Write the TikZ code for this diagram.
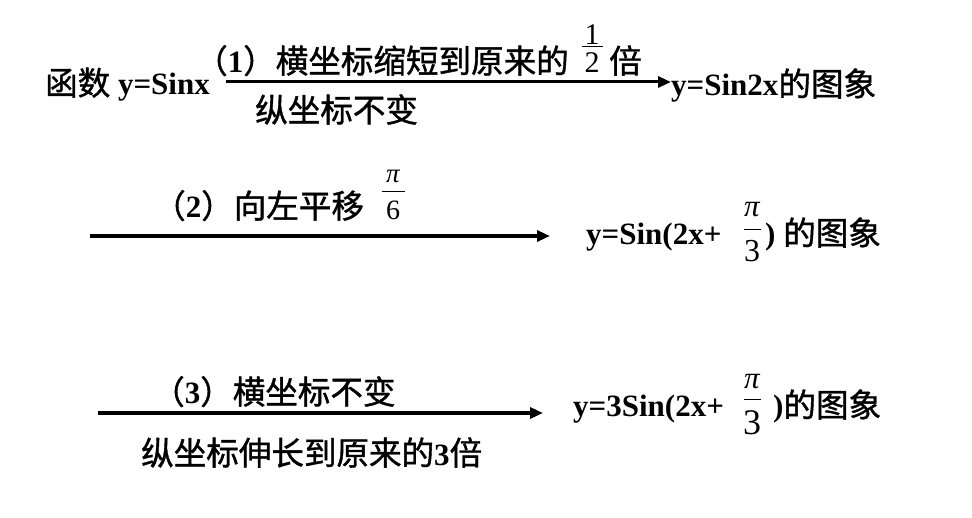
\documentclass[tikz,border=0pt]{standalone}
\usepackage{fontspec}
\setmainfont{Liberation Serif}
\newfontfamily\cjk[Scale=1.05,FakeBold=1.2]{Noto Sans CJK SC}
\usetikzlibrary{arrows.meta}
\newcommand\C[1]{{\cjk\mdseries #1}}
% #1 num size, #2 num, #3 gap above bar, #4 gap below bar, #5 den size, #6 den, #7 bar width
\newcommand\fr[7]{\mdseries\vbox{\offinterlineskip\halign{\hfil##\hfil\cr
  \fontsize{#1}{#1}\selectfont #2\cr
  \noalign{\kern#3}
  \vrule width #7 height 1pt depth 0pt\cr
  \noalign{\kern#4}
  \fontsize{#5}{#5}\selectfont #6\cr}}}
\newcommand\PI{{\itshape π}}
\begin{document}
\begin{tikzpicture}[x=1pt,y=-1pt,
  txt/.style={font=\fontsize{31}{37}\selectfont\bfseries, inner sep=0pt, anchor=base west},
  frc/.style={inner sep=0pt, anchor=base},
  arr/.style={line width=3pt, -{Triangle[length=13pt,width=11pt]}}]
\useasboundingbox (0,0) rectangle (972,518);
% row 1
\node[txt] (f0) at (45,95) {\C{函数} y=Sinx};
\node[txt] (r1) at (671,96) {y=Sin2x\C{的图象}};
\coordinate (a1s) at (226,82);
\draw[arr] (a1s) -- (r1.west |- a1s);
\node[txt] (l1a) at (195,73) {\C{（}1\C{）横坐标缩短到原来的}};
\node[frc] (q1) at (592,73) {\fr{30pt}{1}{2pt}{6pt}{30pt}{2}{21pt}};
\node[txt] (l1b) at (609,73) {\C{倍}};
\node[txt] (l1c) at (255,122) {\C{纵坐标不变}};
% row 2
\node[txt] (l2a) at (153,218) {\C{（}2\C{）向左平移}};
\node[frc] (q2) at (393,220) {\fr{27pt}{\PI}{9pt}{9pt}{28pt}{6}{23pt}};
\coordinate (a2s) at (90,236);
\coordinate (a2e) at (550,236);
\draw[arr, line width=3.5pt] (a2s) -- (a2e);
\node[txt] (r2a) at (586,245) {y=Sin(2x+};
\node[frc] (q3) at (752,262) {\fr{31pt}{\PI}{12pt}{11pt}{32pt}{3}{17pt}};
\node[txt] (r2b) at (765,245) {) \C{的图象}};
% row 3
\node[txt] (l3a) at (152,404) {\C{（}3\C{）横坐标不变}};
\coordinate (a3s) at (98,413);
\coordinate (a3e) at (543,413);
\draw[arr, line width=3.5pt] (a3s) -- (a3e);
\node[txt] (l3b) at (141,465) {\C{纵坐标伸长到原来的}3\C{倍}};
\node[txt] (r3a) at (573,417) {y=3Sin(2x+};
\node[frc] (q4) at (752,435) {\fr{31pt}{\PI}{10pt}{11pt}{36pt}{3}{17pt}};
\node[txt] (r3b) at (773,417) {)\C{的图象}};
\end{tikzpicture}
\end{document}
